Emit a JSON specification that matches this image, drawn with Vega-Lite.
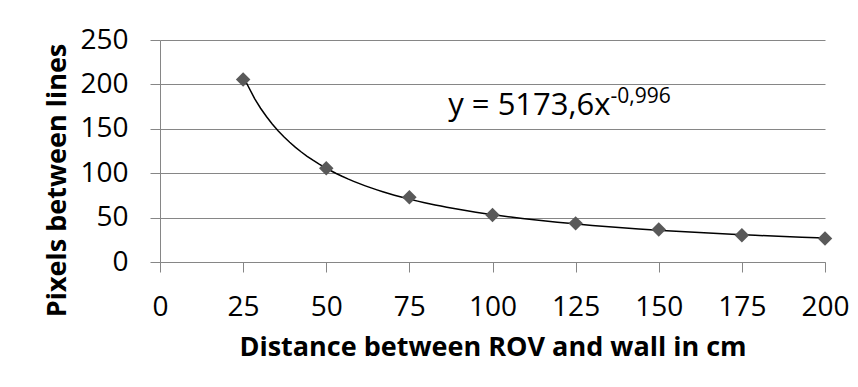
{
  "$schema": "https://vega.github.io/schema/vega-lite/v6.json",
  "width": 665,
  "height": 222,
  "autosize": {"type": "none"},
  "padding": {"left": 160, "top": 40, "right": 33, "bottom": 125},
  "background": "white",
  "config": {"view": {"stroke": null}, "font": "Open Sans"},
  "layer": [
    {
      "data": {"name": "points"},
      "transform": [{"regression": "pixels", "on": "distance", "method": "pow", "extent": [25, 200]}],
      "mark": {"type": "line", "color": "black", "strokeWidth": 1.5},
      "encoding": {
        "x": {"field": "distance", "type": "quantitative", "scale": {"domain": [0, 200], "nice": false}},
        "y": {"field": "pixels", "type": "quantitative", "scale": {"domain": [0, 250], "nice": false}}
      }
    },
    {
      "data": {"name": "points"},
      "mark": {"type": "point", "shape": "diamond", "filled": true, "color": "#595959", "size": 210, "opacity": 1},
      "encoding": {
        "x": {
          "field": "distance", "type": "quantitative",
          "scale": {"domain": [0, 200], "nice": false},
          "axis": {
            "values": [0, 25, 50, 75, 100, 125, 150, 175, 200],
            "title": "Distance between ROV and wall in cm",
            "titleFontSize": 27, "titleFontWeight": "bold", "titleColor": "black",
            "titleBaseline": "alphabetic", "titleY": 93,
            "labelFontSize": 28, "labelColor": "black", "labelBaseline": "alphabetic", "labelPadding": 43, "labelFlush": false,
            "tickSize": 10, "tickColor": "#868686", "domainColor": "#868686", "grid": false
          }
        },
        "y": {
          "field": "pixels", "type": "quantitative",
          "scale": {"domain": [0, 250], "nice": false},
          "axis": {
            "values": [0, 50, 100, 150, 200, 250],
            "title": "Pixels between lines",
            "titleFontSize": 27, "titleFontWeight": "bold", "titleColor": "black",
            "titleAngle": 270, "titleBaseline": "alphabetic", "titleAlign": "center", "titleX": -95, "titleY": 140,
            "labelFontSize": 28, "labelColor": "black", "labelPadding": 22,
            "tickSize": 10, "tickColor": "#868686", "domainColor": "#868686",
            "grid": true, "gridColor": "#868686"
          }
        }
      }
    },
    {
      "data": {"values": [{"label": "y = 5173,6x"}]},
      "mark": {"type": "text", "align": "right", "baseline": "alphabetic", "fontSize": 31, "fontWeight": "normal", "color": "black"},
      "encoding": {
        "text": {"field": "label"},
        "x": {"datum": 135.5},
        "y": {"datum": 165.5}
      }
    },
    {
      "data": {"values": [{"label": "-0,996"}]},
      "mark": {"type": "text", "align": "left", "baseline": "alphabetic", "fontSize": 21, "fontWeight": "normal", "color": "black"},
      "encoding": {
        "text": {"field": "label"},
        "x": {"datum": 135.5},
        "y": {"datum": 179.5}
      }
    }
  ],
  "datasets": {
    "points": [
      {"distance": 25, "pixels": 205.5},
      {"distance": 50, "pixels": 105.5},
      {"distance": 75, "pixels": 73},
      {"distance": 100, "pixels": 53},
      {"distance": 125, "pixels": 43.5},
      {"distance": 150, "pixels": 36.5},
      {"distance": 175, "pixels": 30},
      {"distance": 200, "pixels": 26.5}
    ]
  }
}
